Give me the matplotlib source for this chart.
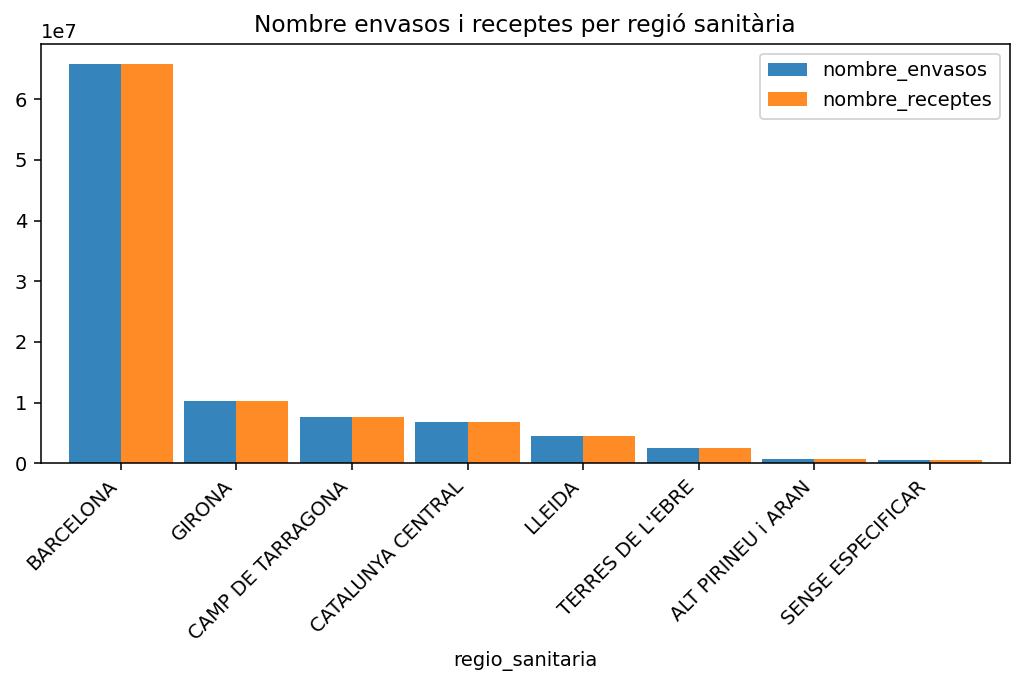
import matplotlib.pyplot as plt
import pandas as pd

# Values
regions = ['BARCELONA', 'GIRONA', 'CAMP DE TARRAGONA', 'CATALUNYA CENTRAL',
           'LLEIDA', "TERRES DE L'EBRE", 'ALT PIRINEU i ARAN', 'SENSE ESPECIFICAR']
nombre_envasos = [6.58e7, 1.03e7, 0.77e7, 0.68e7, 0.445e7, 0.25e7, 0.071e7, 0.05e7]
nombre_receptes = [6.58e7, 1.03e7, 0.77e7, 0.68e7, 0.445e7, 0.25e7, 0.071e7, 0.05e7]

df = pd.DataFrame({'nombre_envasos': nombre_envasos,
                   'nombre_receptes': nombre_receptes},
                  index=pd.Index(regions, name='regio_sanitaria'))

fig, ax = plt.subplots(figsize=(1024 / 140, 685 / 140), dpi=140)
df.plot(kind='bar', ax=ax, width=0.9, alpha=0.9)
ax.set_title('Nombre envasos i receptes per regió sanitària')
ax.set_xlim(-0.69, len(regions) - 1 + 0.69)
plt.setp(ax.get_xticklabels(), rotation=45, ha='right')
fig.subplots_adjust(left=0.040, right=0.986, top=0.936, bottom=0.3234)
fig.savefig('out.png', dpi=140)
